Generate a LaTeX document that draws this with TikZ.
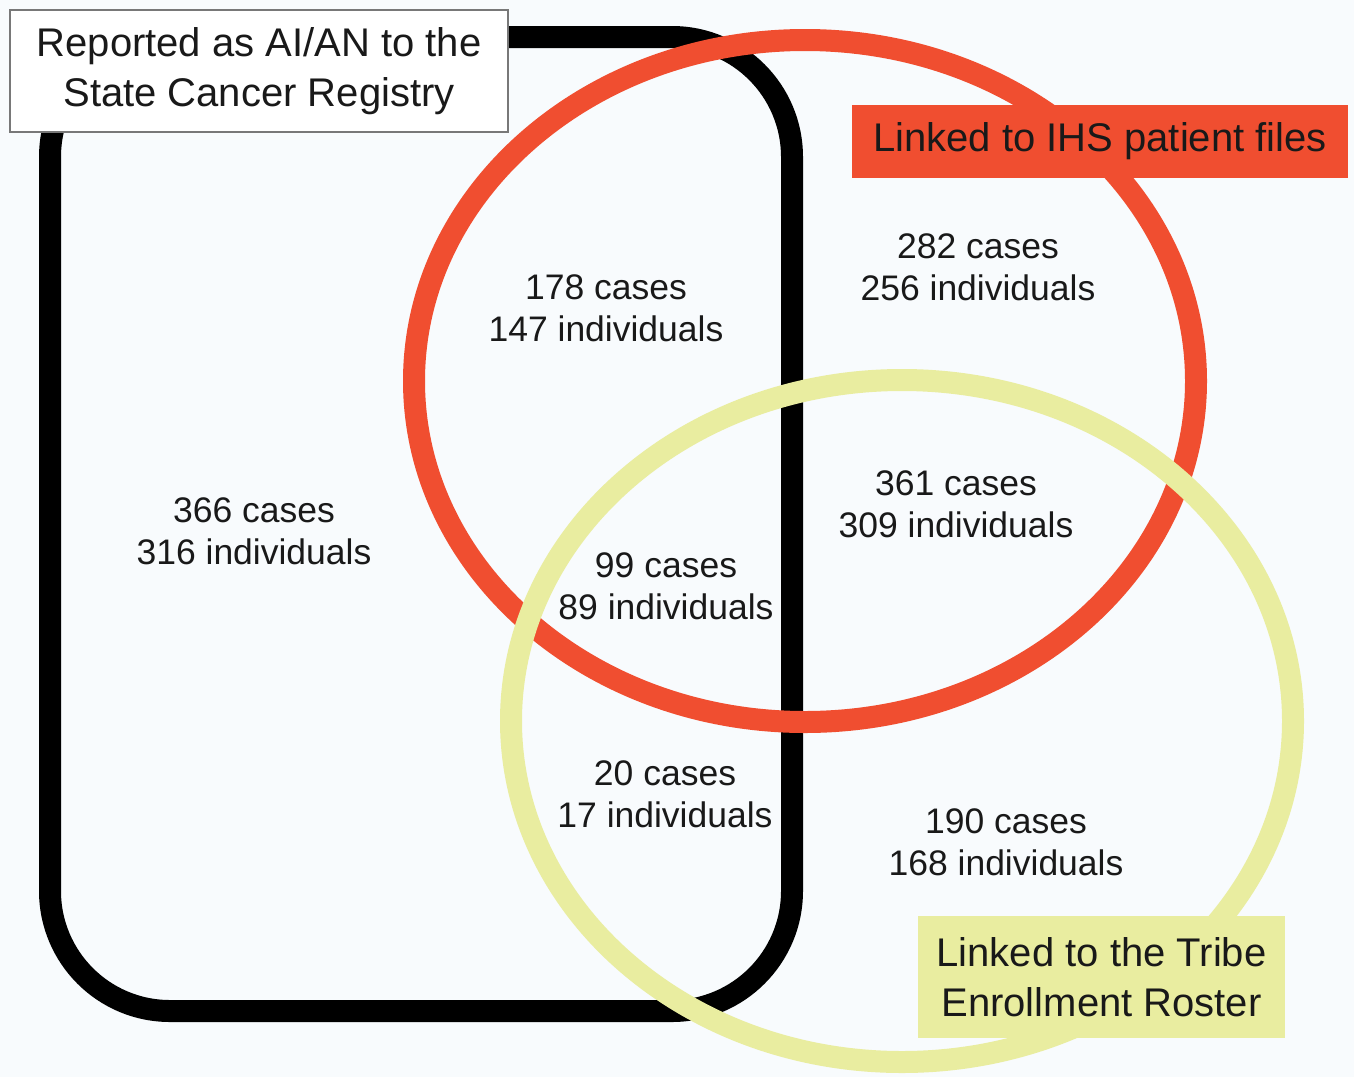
\documentclass[tikz,border=0pt]{standalone}
\usepackage{fontspec}
\setmainfont{Liberation Sans}
\definecolor{bgcol}{RGB}{248,251,253}
\definecolor{ihsred}{RGB}{240,78,48}
\definecolor{tribeyel}{RGB}{233,237,160}
\definecolor{txtcol}{RGB}{25,25,25}
\definecolor{boxgray}{RGB}{120,120,120}
\tikzset{
  setline/.style={line width=22pt},
  titlefont/.style={font=\fontsize{40}{50}\selectfont, text=txtcol, align=center, inner sep=0pt},
  countfont/.style={font=\fontsize{35.5}{42}\selectfont, text=txtcol, align=center, inner sep=0pt},
}
\begin{document}
\begin{tikzpicture}[x=1pt,y=-1pt]
\fill[bgcol] (0,0) rectangle (1354,1077);
% registry set
\draw[setline, black, rounded corners=120pt] (50,37) rectangle (792,1011);
% IHS set
\draw[setline, ihsred] (805,381) ellipse [x radius=391pt, y radius=341pt];
% Tribe set
\draw[setline, tribeyel] (902,721) ellipse [x radius=391pt, y radius=341pt];
% labels of the sets
\node[titlefont, draw=boxgray, line width=2pt, fill=white, minimum width=498pt, minimum height=122pt] (reg) at (259,71) {Reported as AI/AN to the\\State Cancer Registry};
\node[titlefont, fill=ihsred, minimum width=496pt, minimum height=73pt] (ihs) at (1100,141.5) {Linked to IHS patient files};
\node[titlefont, fill=tribeyel, minimum width=367pt, minimum height=122pt] (tribe) at (1101.5,977) {Linked to the Tribe\\Enrollment Roster};
% counts
\node[countfont] (c366) at (254,531) {366 cases\\316 individuals};
\node[countfont] (c178) at (606,308) {178 cases\\147 individuals};
\node[countfont] (c282) at (978,267) {282 cases\\256 individuals};
\node[countfont] (c361) at (956,504) {361 cases\\309 individuals};
\node[countfont] (c99) at (666,586) {99 cases\\89 individuals};
\node[countfont] (c20) at (665,794) {20 cases\\17 individuals};
\node[countfont] (c190) at (1006,842) {190 cases\\168 individuals};
\end{tikzpicture}
\end{document}
